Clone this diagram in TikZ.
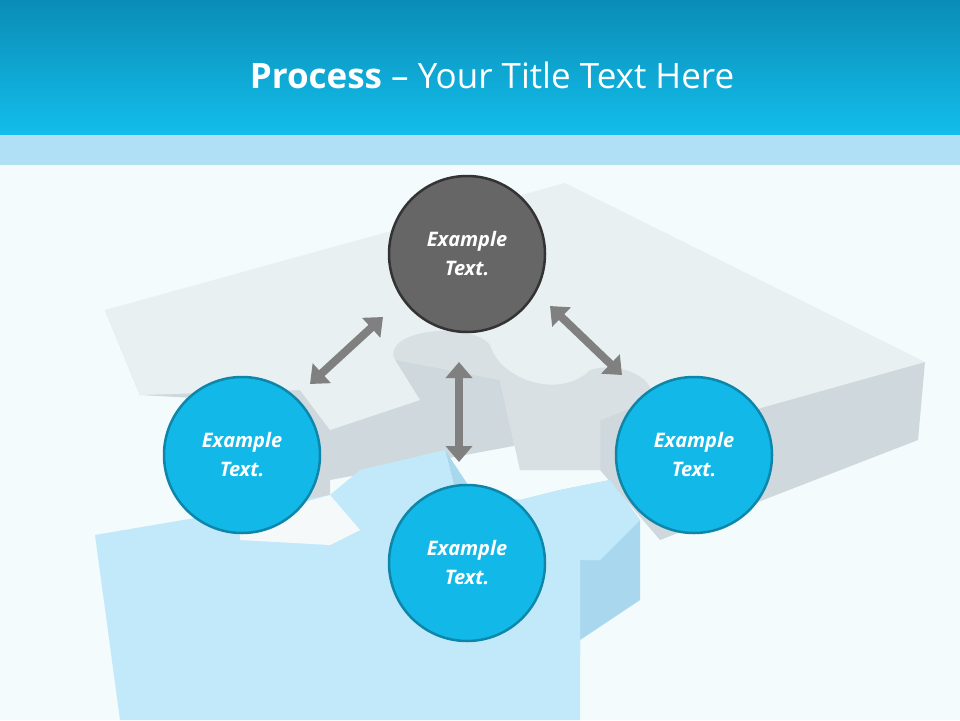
\documentclass[tikz,border=0pt]{standalone}
\usepackage{fontspec}
\setmainfont{Open Sans}
\usetikzlibrary{arrows.meta}
\definecolor{hdtop}{HTML}{0A8DB6}
\definecolor{hdbot}{HTML}{13BDEB}
\definecolor{band}{HTML}{B0E0F5}
\definecolor{bg}{HTML}{F3FBFD}
\definecolor{cblue}{HTML}{12B9E8}
\definecolor{cblueb}{HTML}{0E86AA}
\definecolor{pz}{HTML}{E9F0F2}
\definecolor{pzs}{HTML}{CFD8DC}
\definecolor{pzb}{HTML}{C2E9FA}
\definecolor{pzbs}{HTML}{A9D8EE}
\tikzset{
  bubble/.style={circle,minimum size=156pt,line width=2.5pt,draw=cblueb,fill=cblue,
    text=white,font=\fontsize{20}{29}\selectfont\bfseries\itshape,align=center},
  dbubble/.style={bubble,fill=black!60,draw=black!80},
  darr/.style={line width=8pt,draw=black!50,{Triangle[length=16pt,width=26pt]}-{Triangle[length=16pt,width=26pt]}}
}
\begin{document}
\begin{tikzpicture}[x=1pt,y=-1pt]
\useasboundingbox (0,0) rectangle (960,720);
\fill[bg] (0,0) rectangle (960,720);
\shade[top color=hdtop,bottom color=hdbot] (0,0) rectangle (960,135);
\fill[band] (0,135) rectangle (960,165);
\node[text=white,font=\fontsize{35}{40}\selectfont] (title) at (492,75) {\textbf{Process} – Your Title Text Here};
% grey board
\fill[pzs] (105,310) -- (140,395) -- (230,400) -- (235,555) -- (330,540) -- (330,480) -- (600,430) -- (600,470) -- (660,540) -- (918,440) -- (925,362) -- cycle;
\fill[pz] (105,310) -- (565,183) -- (925,362) -- (700,425) -- (650,400) -- (600,420) -- (600,470) -- (520,470) -- (500,380) -- (450,350) -- (395,360) -- (420,400) -- (330,430) -- (300,390) -- (140,395) -- cycle;
\fill[pzs!80] (395,360) .. controls (380,330) and (470,320) .. (490,345) .. controls (500,380) and (560,400) .. (590,370) .. controls (620,360) and (660,380) .. (650,400) -- (600,420) -- (600,470) -- (520,470) -- (500,380) -- cycle;
% blue piece
\fill[pzbs] (445,450) -- (455,490) -- (520,500) -- (560,490) -- (610,480) -- (640,520) -- (640,600) -- (580,640) -- (580,655) -- cycle;
\fill[pzb] (95,535) -- (330,495) -- (360,470) -- (445,450) -- (455,490) -- (520,500) -- (560,490) -- (610,480) -- (640,520) -- (600,560) -- (580,560) -- (580,720) -- (120,720) -- cycle;
\fill[white!60!pz] (240,540) -- (330,545) -- (360,530) -- (330,495) -- (240,520) -- cycle;
% circles
\node[dbubble] (top) at (467,254) {Example\\Text.};
\node[bubble] (left) at (242,455) {Example\\Text.};
\node[bubble] (right) at (694,455) {Example\\Text.};
\node[bubble] (bot) at (467,563) {Example\\Text.};
% arrows
\coordinate (a1) at (310,384); \coordinate (a2) at (383,317);
\coordinate (b1) at (550,306); \coordinate (b2) at (622,375);
\coordinate (c1) at (459,362); \coordinate (c2) at (459,462);
\draw[darr] (a1) -- (a2);
\draw[darr] (b1) -- (b2);
\draw[darr] (c1) -- (c2);
\end{tikzpicture}
\end{document}
